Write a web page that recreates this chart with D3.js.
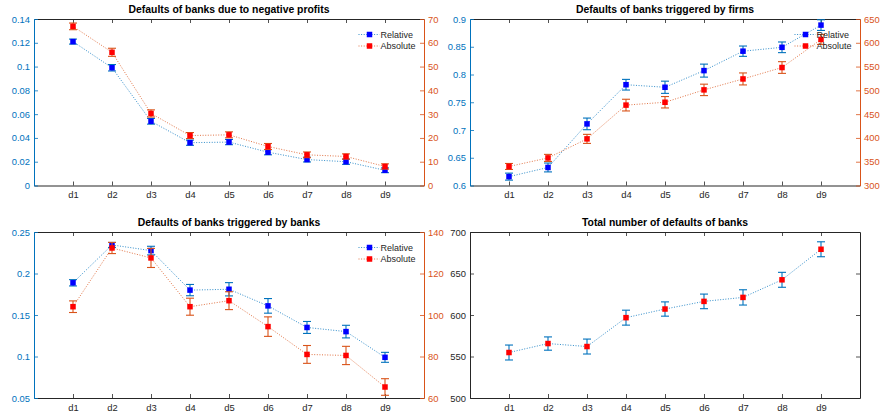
<!DOCTYPE html>
<html>
<head>
<meta charset="utf-8">
<script src="https://cdn.jsdelivr.net/npm/d3@7"></script>
<style>
  body { margin: 0; background: #fff; }
  svg { font-family: "Liberation Sans", Arial, Helvetica, sans-serif; }
</style>
</head>
<body>
<svg id="fig" width="884" height="418"></svg>
<script>
const categories = ['d1', 'd2', 'd3', 'd4', 'd5', 'd6', 'd7', 'd8', 'd9'];

// negative profits
const profitsRel = [0.121, 0.099, 0.054, 0.036, 0.0365, 0.028, 0.0218, 0.020, 0.0128];
const profitsRelErr = [0.0021, 0.0027, 0.0024, 0.0022, 0.0022, 0.0022, 0.002, 0.0022, 0.002];
const profitsAbs = [66.9, 56.0, 30.3, 21.0, 21.3, 16.4, 12.9, 12.2, 8.0];
const profitsAbsErr = [1.4, 1.7, 1.5, 1.26, 1.26, 1.26, 1.2, 1.1, 1.1];

// triggered by firms
const firmsRel = [0.616, 0.6325, 0.711, 0.7816, 0.777, 0.807, 0.842, 0.849, 0.889];
const firmsRelErr = [0.0063, 0.008, 0.0105, 0.0096, 0.011, 0.0117, 0.0093, 0.0096, 0.0096];
const firmsAbs = [340, 358, 398, 469, 475, 501, 524, 548, 607];
const firmsAbsErr = [6.3, 7.4, 9.5, 12.3, 12, 12, 12.6, 12.3, 10.5];

// triggered by banks
const banksRel = [0.1888, 0.2344, 0.2276, 0.180, 0.181, 0.161, 0.135, 0.130, 0.099];
const banksRelErr = [0.0038, 0.003, 0.0052, 0.0068, 0.008, 0.0088, 0.0072, 0.0076, 0.006];
const banksAbs = [104, 132.3, 127.5, 104, 106.9, 94.4, 81, 80.5, 65.3];
const banksAbsErr = [2.8, 2.7, 4.6, 4.1, 4.3, 4.7, 4.3, 4.4, 4.0];

// total
const totalDefaults = [554.8, 565.6, 562, 596.8, 607.2, 616.4, 621.2, 642.4, 679.2];
const totalDefaultsErr = [9, 8, 9, 9, 8.6, 8.8, 9.2, 9, 9];

const legendLabels = ['Relative', 'Absolute'];

const blue = '#0072BD';
const orange = '#D95319';
const gray = '#262626';

const cols = [{left: 34, right: 424}, {left: 470, right: 860}];
const rows = [{top: 19, bottom: 185.5}, {top: 232, bottom: 398}];

const svg = d3.select('#fig');

const styleAxis = (g, color, showText = true) => {
  g.select('.domain').attr('stroke', color).attr('stroke-width', 1);
  g.selectAll('.tick line').attr('stroke', color).attr('stroke-width', 0.8);
  g.selectAll('.tick text')
      .attr('fill', color)
      .attr('font-size', 9.4)
      .attr('font-family', null)
      .style('display', showText ? null : 'none');
  g.attr('font-family', null);
};

const createFrame = (col, row, title) => {
  const x = d3.scaleLinear().domain([0, 10]).range([col.left, col.right]);

  svg.append('g')
      .attr('transform', `translate(0,${row.top})`)
      .call(d3.axisTop(x).tickValues(d3.range(1, 10)).tickSizeInner(-4).tickSizeOuter(0))
      .call(g => styleAxis(g, gray, false));

  svg.append('g')
      .attr('transform', `translate(0,${row.bottom})`)
      .call(d3.axisBottom(x)
          .tickValues(d3.range(1, 10))
          .tickFormat(i => categories[i - 1])
          .tickSizeInner(-4).tickSizeOuter(0).tickPadding(6))
      .call(g => styleAxis(g, gray));

  svg.append('text')
      .attr('x', (col.left + col.right) / 2)
      .attr('y', row.top - 6)
      .attr('text-anchor', 'middle')
      .attr('font-size', 10.4)
      .attr('font-weight', 'bold')
      .attr('fill', '#000')
      .text(title);

  return x;
};

const yAxis = (col, row, domain, ticks, fmt, side, color, showText = true) => {
  const y = d3.scaleLinear().domain(domain).range([row.bottom, row.top]);
  const axis = side === 'left' ? d3.axisLeft(y) : d3.axisRight(y);
  svg.append('g')
      .attr('transform', `translate(${side === 'left' ? col.left : col.right},0)`)
      .call(axis.tickValues(ticks).tickFormat(fmt).tickSizeInner(-4).tickSizeOuter(0).tickPadding(4))
      .call(g => styleAxis(g, color, showText));
  return y;
};

const drawSeries = (x, y, values, errs, lineColor, markerColor) => {
  const g = svg.append('g');

  const line = d3.line()
      .x((v, i) => x(i + 1))
      .y(v => y(v));

  g.append('path')
      .attr('d', line(values))
      .attr('fill', 'none')
      .attr('stroke', lineColor)
      .attr('stroke-width', 1)
      .attr('stroke-opacity', 0.8)
      .attr('stroke-dasharray', '1,1.6');

  const bars = g.selectAll('.err').data(values).join('g').attr('class', 'err')
      .attr('stroke', lineColor).attr('stroke-width', 1.1);

  bars.append('line')
      .attr('x1', (v, i) => x(i + 1)).attr('x2', (v, i) => x(i + 1))
      .attr('y1', (v, i) => y(v - errs[i])).attr('y2', (v, i) => y(v + errs[i]));
  bars.append('line')
      .attr('x1', (v, i) => x(i + 1) - 4).attr('x2', (v, i) => x(i + 1) + 4)
      .attr('y1', (v, i) => y(v - errs[i])).attr('y2', (v, i) => y(v - errs[i]));
  bars.append('line')
      .attr('x1', (v, i) => x(i + 1) - 4).attr('x2', (v, i) => x(i + 1) + 4)
      .attr('y1', (v, i) => y(v + errs[i])).attr('y2', (v, i) => y(v + errs[i]));

  g.selectAll('.mk').data(values).join('rect').attr('class', 'mk')
      .attr('x', (v, i) => x(i + 1) - 2.75)
      .attr('y', v => y(v) - 2.75)
      .attr('width', 5.5).attr('height', 5.5)
      .attr('fill', markerColor);
};

const drawLegend = (col, row) => {
  const items = [
    {label: legendLabels[0], line: blue, marker: '#0000FF'},
    {label: legendLabels[1], line: orange, marker: '#FF0000'}
  ];
  const mx = col.right - 54.5;
  const g = svg.append('g');
  items.forEach((item, i) => {
    const yy = row.top + 15.5 + i * 11.5;
    g.append('line')
        .attr('x1', mx - 11).attr('x2', mx + 10)
        .attr('y1', yy).attr('y2', yy)
        .attr('stroke', item.line)
        .attr('stroke-opacity', 0.8)
        .attr('stroke-dasharray', '1,1.6');
    g.append('rect')
        .attr('x', mx - 2.75).attr('y', yy - 2.75)
        .attr('width', 5.5).attr('height', 5.5)
        .attr('fill', item.marker);
    g.append('text')
        .attr('x', mx + 11).attr('y', yy + 3.2)
        .attr('font-size', 9)
        .attr('fill', gray)
        .text(item.label);
  });
};

const fmtNum = d => String(+d.toFixed(4));

const twinPanel = (col, row, title, left, right) => {
  const x = createFrame(col, row, title);
  const yL = yAxis(col, row, left.domain, left.ticks, fmtNum, 'left', blue);
  const yR = yAxis(col, row, right.domain, right.ticks, fmtNum, 'right', orange);
  drawSeries(x, yL, left.values, left.errs, blue, '#0000FF');
  drawSeries(x, yR, right.values, right.errs, orange, '#FF0000');
  drawLegend(col, row);
};

twinPanel(cols[0], rows[0], 'Defaults of banks due to negative profits',
    {domain: [0, 0.14], ticks: d3.range(0, 0.1401, 0.02), values: profitsRel, errs: profitsRelErr},
    {domain: [0, 70], ticks: d3.range(0, 71, 10), values: profitsAbs, errs: profitsAbsErr});

twinPanel(cols[1], rows[0], 'Defaults of banks triggered by firms',
    {domain: [0.6, 0.9], ticks: d3.range(0.6, 0.9001, 0.05), values: firmsRel, errs: firmsRelErr},
    {domain: [300, 650], ticks: d3.range(300, 651, 50), values: firmsAbs, errs: firmsAbsErr});

twinPanel(cols[0], rows[1], 'Defaults of banks triggered by banks',
    {domain: [0.05, 0.25], ticks: d3.range(0.05, 0.2501, 0.05), values: banksRel, errs: banksRelErr},
    {domain: [60, 140], ticks: d3.range(60, 141, 20), values: banksAbs, errs: banksAbsErr});

// single-axis panel
const xT = createFrame(cols[1], rows[1], 'Total number of defaults of banks');
const yT = yAxis(cols[1], rows[1], [500, 700], d3.range(500, 701, 50), fmtNum, 'left', gray);
yAxis(cols[1], rows[1], [500, 700], d3.range(500, 701, 50), fmtNum, 'right', gray, false);
drawSeries(xT, yT, totalDefaults, totalDefaultsErr, blue, '#FF0000');
</script>
</body>
</html>
